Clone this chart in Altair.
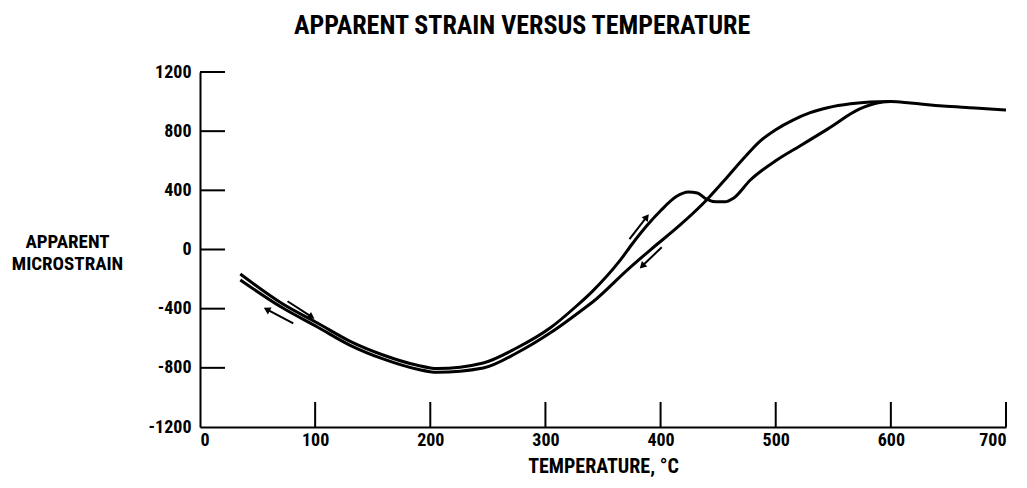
import math
import altair as alt
import pandas as pd

# ---- data ----
heat_T = [35, 72, 102, 130, 159, 188, 206, 246, 275, 304, 327, 341, 365, 376, 388, 400, 414, 424, 432, 440, 448, 456, 463, 478, 501, 521, 545, 573, 588, 600, 617, 645, 673, 700]
heat_S = [-166, -369, -497, -619, -713, -781, -805, -767, -666, -531, -382, -281, -72, 44, 160, 262, 360, 389, 382, 340, 322, 322, 345, 470, 605, 700, 814, 950, 990, 1000, 990, 970, 957, 943]

cool_T = [35, 72, 102, 130, 159, 188, 206, 246, 275, 304, 333, 341, 371, 392, 417, 440, 458, 472, 486, 500, 515, 530, 545, 565, 582, 600]
cool_S = [-206, -396, -524, -646, -740, -808, -830, -801, -700, -565, -402, -355, -139, 3, 166, 335, 490, 615, 730, 810, 875, 925, 958, 985, 997, 1000]

arrow_x1 = [76, 81, 373, 401]
arrow_y1 = [-350, -500, 70, 15]
arrow_x2 = [97, 58, 388, 384]
arrow_y2 = [-456, -405, 220, -112]

x_ticks = [0, 100, 200, 300, 400, 500, 600, 700]
y_ticks = [-1200, -800, -400, 0, 400, 800, 1200]
x_inner_ticks = [100, 200, 300, 400, 500, 600, 700]
y_inner_ticks = [-800, -400, 0, 400, 800, 1200]

# ---- layout ----
W, H = 806, 355
XDOM = [0, 700]
YDOM = [-1200, 1200]
FONT = "Roboto Condensed, Roboto, Liberation Sans, sans-serif"
TICK_LEN = 25
LABEL_EXPR = "datum.value < 0 ? '-' + abs(datum.value) : '' + datum.value"

df = pd.concat([
    pd.DataFrame({"T": heat_T, "S": heat_S, "run": "heating", "i": range(len(heat_T))}),
    pd.DataFrame({"T": cool_T, "S": cool_S, "run": "cooling", "i": range(len(cool_T))}),
])

xs = alt.Scale(domain=XDOM, nice=False, zero=False)
ys = alt.Scale(domain=YDOM, nice=False, zero=False)

x_axis = alt.Axis(values=x_ticks, ticks=False, grid=False, domainColor="black", domainWidth=2,
                  labelFont=FONT, labelFontSize=18, labelFontWeight="bold", labelColor="black",
                  labelPadding=4, labelExpr=LABEL_EXPR,
                  title="TEMPERATURE, °C", titleFont=FONT, titleFontSize=20,
                  titleFontWeight="bold", titleColor="black", titleY=29, titleBaseline="top")
y_axis = alt.Axis(values=y_ticks, ticks=False, grid=False, domainColor="black", domainWidth=2,
                  labelFont=FONT, labelFontSize=18, labelFontWeight="bold", labelColor="black",
                  labelPadding=9, labelExpr=LABEL_EXPR,
                  title=["APPARENT", "MICROSTRAIN"], titleFont=FONT,
                  titleFontSize=19, titleFontWeight="bold", titleColor="black", titleAngle=0,
                  titleAlign="center", titleX=-133, titleY=160, titleBaseline="top", titleLineHeight=22)

curves = alt.Chart(df).mark_line(color="black", strokeWidth=3, interpolate="monotone").encode(
    x=alt.X("T:Q", scale=xs, axis=x_axis),
    y=alt.Y("S:Q", scale=ys, axis=y_axis),
    detail="run:N",
    order="i:Q",
)

ytick_layer = alt.Chart(pd.DataFrame({"v": y_inner_ticks})).mark_rule(color="black", strokeWidth=2).encode(
    y=alt.Y("v:Q", scale=ys),
    x=alt.value(0), x2=alt.value(TICK_LEN),
)
xtick_layer = alt.Chart(pd.DataFrame({"v": x_inner_ticks})).mark_rule(color="black", strokeWidth=2).encode(
    x=alt.X("v:Q", scale=xs),
    y=alt.value(H), y2=alt.value(H - TICK_LEN),
)

# arrows
angles = []
for a, b, c, d in zip(arrow_x1, arrow_y1, arrow_x2, arrow_y2):
    dx = (c - a) * W / (XDOM[1] - XDOM[0])
    dy = -(d - b) * H / (YDOM[1] - YDOM[0])
    angles.append(math.degrees(math.atan2(dx, -dy)) % 360)
adf = pd.DataFrame({"x1": arrow_x1, "y1": arrow_y1, "x2": arrow_x2, "y2": arrow_y2, "ang": angles})

shafts = alt.Chart(adf).mark_rule(color="black", strokeWidth=2).encode(
    x=alt.X("x1:Q", scale=xs), y=alt.Y("y1:Q", scale=ys), x2="x2:Q", y2="y2:Q"
)
heads = alt.Chart(adf).mark_point(shape="triangle-up", filled=True, color="black", size=60, opacity=1).encode(
    x=alt.X("x2:Q", scale=xs), y=alt.Y("y2:Q", scale=ys), angle=alt.Angle("ang:Q", scale=None)
)

chart = alt.layer(curves, ytick_layer, xtick_layer, shafts, heads).properties(
    width=W, height=H,
    title=alt.TitleParams("APPARENT STRAIN VERSUS TEMPERATURE", font=FONT, fontSize=26,
                          fontWeight="bold", color="black", anchor="middle", frame="group",
                          dx=-81, offset=24),
    autosize=alt.AutoSizeParams(type="none"),
    padding={"left": 192, "top": 64, "right": 10, "bottom": 50},
).configure_view(stroke=None)

chart.save("out.html", embed_options={"renderer": "svg", "actions": False})
